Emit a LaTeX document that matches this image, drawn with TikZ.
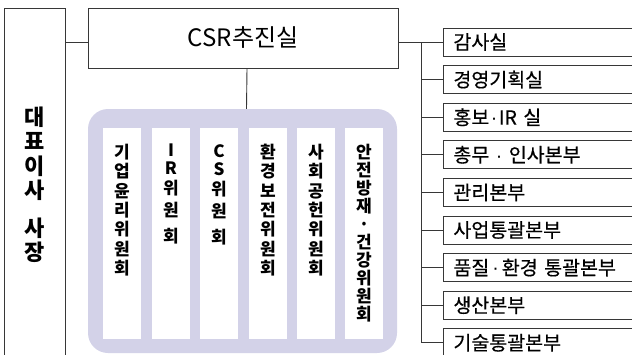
\documentclass[tikz,border=0pt]{standalone}
\usepackage{fontspec}
\setmainfont{Noto Sans CJK KR}
\newfontfamily\krmed[FakeBold=0.5]{Noto Sans CJK KR}
\newfontfamily\latdot{Liberation Sans}
\newcommand{\mdot}{{\latdot ·}}
\definecolor{lav}{RGB}{211,210,232}
\definecolor{ln}{RGB}{55,55,55}
\begin{document}
\begin{tikzpicture}[x=1pt,y=-1pt,
  conn/.style={draw=ln, line width=0.9pt},
  ceobox/.style={draw=ln, line width=0.9pt, minimum width=61pt, minimum height=354pt, inner sep=0pt, align=center,
     font=\fontsize{22}{24.5}\selectfont\bfseries},
  csrbox/.style={draw=ln, line width=0.9pt, minimum width=310pt, minimum height=60pt, inner sep=0pt,
     font=\fontsize{24}{28}\selectfont},
  cmtbox/.style={fill=lav, rounded corners=20pt, minimum width=309pt, minimum height=244pt, inner sep=0pt},
  colbox/.style={fill=white, minimum width=38pt, minimum height=211pt, inner sep=0pt},
  coltext/.style={anchor=north, inner sep=0pt, align=center},
  deptbox/.style={draw=ln, line width=0.9pt, anchor=west, minimum width=200pt, minimum height=28pt,
     text width=180pt, inner xsep=10pt, inner ysep=0pt, align=left, font=\krmed\fontsize{19.5}{22}\selectfont}
]
\useasboundingbox (0,0) rectangle (632,354);
\clip (0,0) rectangle (632,354);

% CEO box
\node[ceobox] (ceo) at (34.5,185) {대\\표\\이\\사\\[13pt]사\\장};

% CSR office
\node[csrbox] (csr) at (243,38) {CSR추진실};

% committee group
\node[cmtbox] (cmt) at (242.5,231) {};
\draw[conn] ([xshift=4pt]csr.south) -- ([xshift=4pt]cmt.north);

% committee columns
\foreach \k/\x in {1/122,2/171,3/219,4/268,5/316,6/364}{
  \node[colbox] (col\k) at (\x,233.5) {};
}
\node[coltext, font=\fontsize{17}{19.3}\selectfont\bfseries] (t1) at (col1.north |- 0,144) {기\\업\\윤\\리\\위\\원\\회};
\node[coltext, font=\fontsize{17}{19.3}\selectfont\bfseries] (t2) at (col2.north |- 0,144) {I\\[-1.3pt]R\\[0.7pt]위\\[2.7pt]원\\[6.7pt]회};
\node[coltext, font=\fontsize{17}{19.3}\selectfont\bfseries] (t3) at (col3.north |- 0,144) {C\\[-1.3pt]S\\[0.7pt]위\\[2.7pt]원\\[6.7pt]회};
\node[coltext, font=\fontsize{17}{19.3}\selectfont\bfseries] (t4) at (col4.north |- 0,144) {환\\경\\보\\전\\위\\원\\회};
\node[coltext, font=\fontsize{17}{19.3}\selectfont\bfseries] (t5) at (col5.north |- 0,144) {사\\회\\공\\헌\\위\\원\\회};
\node[coltext, font=\fontsize{17}{18}\selectfont\bfseries] (t6) at (col6.north |- 0,144) {안\\전\\방\\재\\·\\건\\강\\위\\원\\회};

% departments
\foreach \i/\t in {1/감사실,2/경영기획실,3/홍보\kern1.5pt\mdot\kern1.5pt IR 실,4/총무 \mdot{} 인사본부,5/관리본부,6/사업통괄본부,7/품질\kern3pt\mdot\kern3pt 환경 통괄본부,8/생산본부,9/기술통괄본부}{
  \node[deptbox] (r\i) at (443,{42+37.6*(\i-1)}) {\t};
}

% connectors
\coordinate (t) at (421,42);
\draw[conn] (ceo.east |- r1.west) -- (csr.west |- r1.west);
\draw[conn] (csr.east |- r1.west) -- (r1.west);
\draw[conn] (t) -- (t |- r9.west) -- (r9.west);
\foreach \i in {2,...,8}{
  \draw[conn] (t |- r\i.west) -- (r\i.west);
}
\end{tikzpicture}
\end{document}
